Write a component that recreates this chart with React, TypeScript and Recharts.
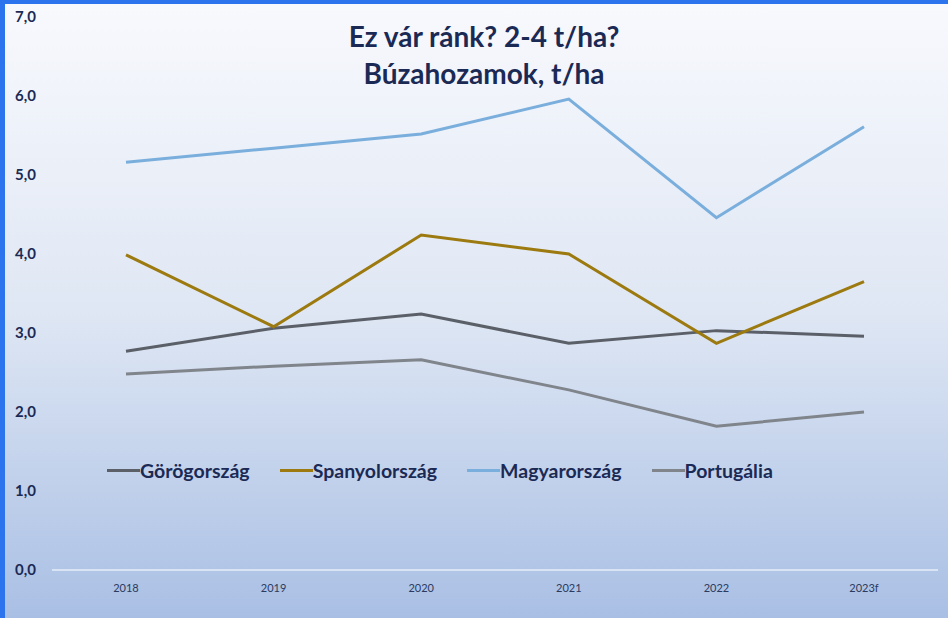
import React from 'react';
import { LineChart, Line, XAxis, YAxis } from 'recharts';

const years = ['2018', '2019', '2020', '2021', '2022', '2023f'];
const gorog = [2.77, 3.06, 3.24, 2.87, 3.03, 2.96];
const spanyol = [3.99, 3.08, 4.24, 4.0, 2.87, 3.65];
const magyar = [5.16, 5.34, 5.52, 5.96, 4.46, 5.61];
const portugal = [2.48, 2.58, 2.66, 2.28, 1.82, 2.0];
const yTicks = [0, 1, 2, 3, 4, 5, 6, 7];

const series = [
    { key: 'gorog', name: 'Görögország', color: '#5b6068' },
    { key: 'spanyol', name: 'Spanyolország', color: '#9c7a10' },
    { key: 'magyar', name: 'Magyarország', color: '#7aaedc' },
    { key: 'portugal', name: 'Portugália', color: '#80858c' },
];

const data = years.map((year, i) => ({
    year,
    gorog: gorog[i],
    spanyol: spanyol[i],
    magyar: magyar[i],
    portugal: portugal[i],
}));

const navy = '#1b2a55';
const font = 'Lato, "Open Sans", sans-serif';

function YTick({ y, payload }: any) {
    return (
        <text x={15} y={y} dy={5} fill={navy} fontSize={15} fontWeight={700} fontFamily={font} textAnchor="start">
            {payload.value.toFixed(1).replace('.', ',')}
        </text>
    );
}

// legend sits inside the plot, so it's drawn as plain html on top
function ChartLegend() {
    return (
        <div style={{ position: 'absolute', top: 455, left: 102, display: 'flex', alignItems: 'center', fontFamily: font }}>
            {series.map((s, i) => (
                <div key={s.key} style={{ display: 'flex', alignItems: 'center', marginRight: i < 3 ? 30 : 0 }}>
                    <div style={{ width: 33, height: 3, background: s.color }} />
                    <span style={{ fontSize: 19.5, fontWeight: 700, color: navy }}>{s.name}</span>
                </div>
            ))}
        </div>
    );
}

export default function App() {
    return (
        <div
            style={{
                position: 'fixed',
                top: 0,
                left: 0,
                width: 948,
                height: 618,
                boxSizing: 'border-box',
                borderTop: '4px solid #2b74ee',
                borderLeft: '5px solid #2b74ee',
                background: 'linear-gradient(to bottom, #f8f9fd 0%, #dfe7f4 50%, #a9bfe4 100%)',
                overflow: 'hidden',
            }}
        >
            <div
                style={{
                    position: 'absolute',
                    left: 0,
                    width: 958,
                    top: 14,
                    textAlign: 'center',
                    fontFamily: font,
                    fontWeight: 700,
                    fontSize: 28,
                    lineHeight: '37px',
                    color: navy,
                }}
            >
                Ez vár ránk? 2-4 t/ha?
                <br />
                Búzahozamok, t/ha
            </div>
            <div style={{ position: 'absolute', top: -4, left: -5 }}>
                <LineChart width={948} height={618} data={data} margin={{ top: 17, right: 10, left: 0, bottom: 18 }}>
                    <XAxis
                        dataKey="year"
                        axisLine={{ stroke: '#e6edf8', strokeWidth: 1.5 }}
                        tickLine={false}
                        height={30}
                        padding={{ left: 74, right: 74 }}
                        tick={{ fill: '#2b3a5e', fontSize: 11, fontFamily: font }}
                        dy={6}
                    />
                    <YAxis
                        domain={[0, 7]}
                        ticks={yTicks}
                        width={52}
                        axisLine={false}
                        tickLine={false}
                        tick={<YTick />}
                    />
                    {series.map((s) => (
                        <Line
                            key={s.key}
                            dataKey={s.key}
                            name={s.name}
                            stroke={s.color}
                            strokeWidth={3}
                            dot={false}
                            activeDot={false}
                            isAnimationActive={false}
                        />
                    ))}
                </LineChart>
            </div>
            <ChartLegend />
        </div>
    );
}
